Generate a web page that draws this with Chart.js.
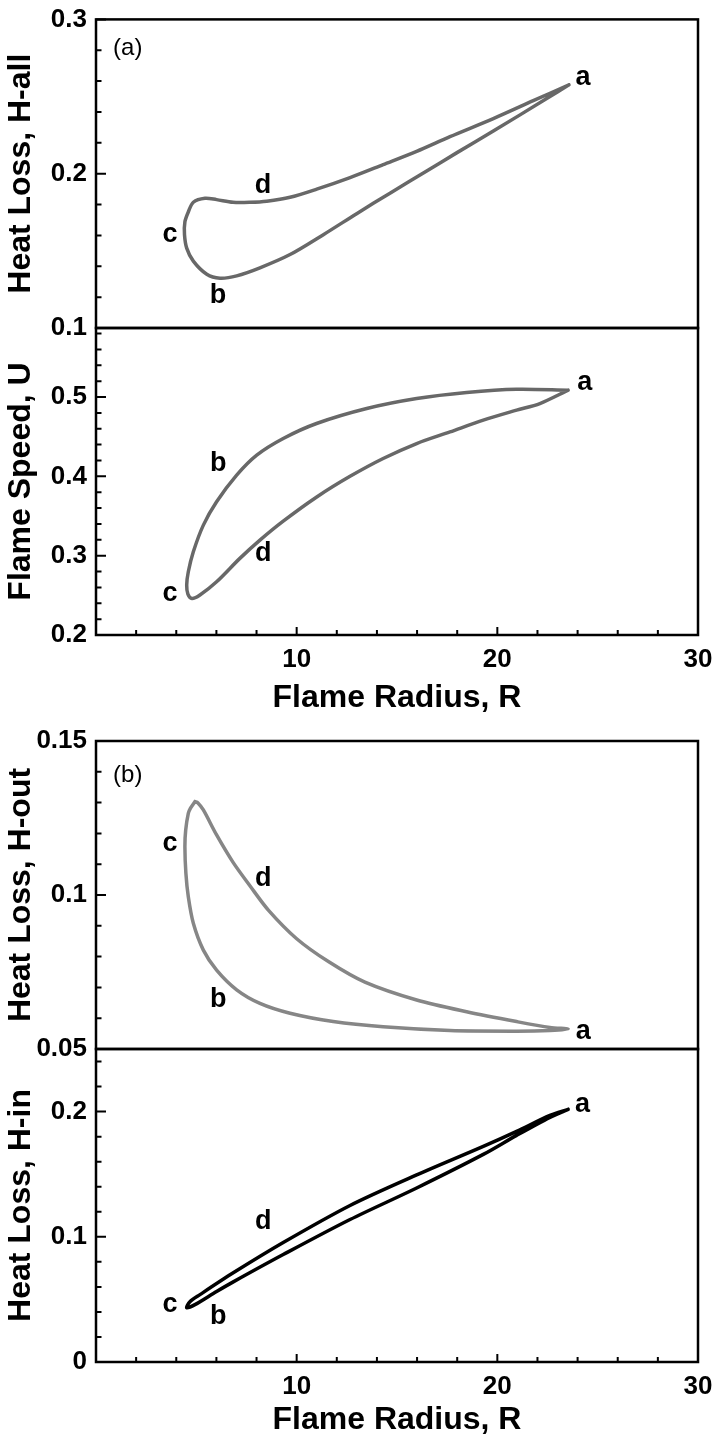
<!DOCTYPE html>
<html>
<head>
<meta charset="utf-8">
<title>Flame radius loops</title>
<script src="https://cdn.jsdelivr.net/npm/chart.js@4.4.1/dist/chart.umd.min.js"></script>
<style>
  body { margin: 0; background: #fff; overflow: hidden; }
  #page { position: relative; width: 717px; height: 1441px; overflow: hidden; }
  #page canvas { position: absolute; left: 0; }
</style>
</head>
<body>
<div id="page">
  <canvas id="chartA1" width="740" height="355" style="top:0px"></canvas>
  <canvas id="chartA2" width="740" height="420" style="top:300px"></canvas>
  <canvas id="chartB1" width="740" height="355" style="top:720px"></canvas>
  <canvas id="chartB2" width="740" height="421" style="top:1020px"></canvas>
</div>
<script>
// (a) top: heat loss H-all vs flame radius, loop a -> b -> c -> d -> a
const rAll = [23.57, 22.46, 19.80, 17.97, 16.48, 14.65, 12.99, 11.33, 9.67, 8.17, 7.01, 6.18, 5.52, 4.85, 4.52, 4.41, 4.43, 4.60, 4.85, 5.43, 6.01, 6.83, 7.67, 8.51, 9.67, 11.00, 12.66, 14.31, 15.98, 17.64, 19.80, 21.79, 23.57];
const hAll = [0.2576, 0.2487, 0.2276, 0.2135, 0.2017, 0.1874, 0.1741, 0.1605, 0.1476, 0.1390, 0.1338, 0.1323, 0.1348, 0.1433, 0.1518, 0.1605, 0.1688, 0.1752, 0.1815, 0.1841, 0.1832, 0.1815, 0.1815, 0.1822, 0.1847, 0.1900, 0.1975, 0.2059, 0.2145, 0.2240, 0.2357, 0.2473, 0.2576];

// (a) bottom: flame speed U
const rSpeed = [23.53, 20.96, 18.47, 15.98, 13.49, 10.99, 9.33, 8.01, 7.01, 6.01, 5.35, 4.85, 4.60, 4.52, 4.58, 4.78, 5.18, 6.01, 7.17, 8.17, 9.33, 11.00, 12.66, 14.31, 15.98, 17.64, 19.30, 20.96, 22.12, 23.53];
const uSpeed = [0.5086, 0.5098, 0.5057, 0.4981, 0.4855, 0.4666, 0.4477, 0.4267, 0.4015, 0.3679, 0.3385, 0.3049, 0.2797, 0.2630, 0.2516, 0.2460, 0.2504, 0.2671, 0.2966, 0.3196, 0.3435, 0.3740, 0.4000, 0.4225, 0.4414, 0.4560, 0.4708, 0.4834, 0.4918, 0.5086];

// (b) top: heat loss H-out
const rOut = [4.93, 4.71, 4.60, 4.47, 4.43, 4.48, 4.60, 4.85, 5.35, 6.01, 7.01, 8.17, 9.67, 11.82, 14.31, 17.64, 20.96, 22.62, 23.53, 22.62, 20.96, 18.47, 15.98, 13.40, 11.60, 10.00, 8.60, 7.67, 6.84, 6.01, 5.35, 5.08, 4.93];
const hOut = [0.1303, 0.1282, 0.1265, 0.1211, 0.1157, 0.1070, 0.0994, 0.0908, 0.0821, 0.0756, 0.0692, 0.0648, 0.0616, 0.0589, 0.0572, 0.0560, 0.0558, 0.0560, 0.0565, 0.0570, 0.0589, 0.0621, 0.0659, 0.0717, 0.0783, 0.0858, 0.0950, 0.1030, 0.1105, 0.1195, 0.1276, 0.1299, 0.1303];

// (b) bottom: heat loss H-in
const rIn = [23.53, 22.62, 20.96, 19.30, 15.98, 12.66, 9.33, 6.82, 5.18, 4.68, 4.52, 4.93, 6.01, 6.82, 9.33, 12.66, 15.98, 19.30, 20.96, 22.62, 23.53];
const hIn = [0.2018, 0.1970, 0.1842, 0.1722, 0.1494, 0.1250, 0.0954, 0.0710, 0.0538, 0.0482, 0.0434, 0.0458, 0.0563, 0.0638, 0.0858, 0.1138, 0.1390, 0.1658, 0.1810, 0.1954, 0.2018];

// point letters (data coordinates)
const marks = ['a', 'b', 'c', 'd'];
const markRA1 = [24.27, 6.08, 3.69, 8.32], markVA1 = [0.2624, 0.1210, 0.1605, 0.1924];
const markRA2 = [24.36, 6.09, 3.69, 8.34], markVA2 = [0.5178, 0.4163, 0.2525, 0.3029];
const markRB1 = [24.28, 6.09, 3.69, 8.34], markVB1 = [0.0556, 0.0659, 0.1168, 0.1054];
const markRB2 = [24.25, 6.09, 3.69, 8.34], markVB2 = [0.2058, 0.0365, 0.0458, 0.1125];

const xTickLabels = [10, 20, 30];

Chart.defaults.font.family = '"Liberation Sans", Arial, Helvetica, sans-serif';
Chart.defaults.color = '#000';

// box frame, inward ticks and point letters
const framePlugin = {
    id: 'frame',
    afterDatasetsDraw(chart, args, opts) {
        const ctx = chart.ctx, a = chart.chartArea;
        const x = chart.scales.x, y = chart.scales.y;
        ctx.save();
        ctx.strokeStyle = '#000';
        ctx.lineWidth = 2;
        ctx.beginPath();
        y.ticks.forEach(t => {
            const p = y.getPixelForValue(t.value);
            const len = t.label ? 10 : 5.5;
            ctx.moveTo(a.left, p);
            ctx.lineTo(a.left + len, p);
        });
        if (opts.xTicks) {
            x.ticks.forEach(t => {
                const p = x.getPixelForValue(t.value);
                const len = t.label ? 8 : 5;
                ctx.moveTo(p, a.bottom);
                ctx.lineTo(p, a.bottom - len);
            });
        }
        ctx.stroke();
        ctx.lineWidth = 2.5;
        ctx.strokeRect(a.left, a.top, a.right - a.left, a.bottom - a.top);

        ctx.fillStyle = '#000';
        ctx.textAlign = 'center';
        ctx.textBaseline = 'middle';
        ctx.font = 'bold 27px "Liberation Sans", Arial, sans-serif';
        marks.forEach((m, i) => {
            ctx.fillText(m, x.getPixelForValue(opts.markR[i]), y.getPixelForValue(opts.markV[i]));
        });
        if (opts.tag) {
            ctx.textAlign = 'left';
            ctx.font = '24px "Liberation Sans", Arial, sans-serif';
            ctx.fillText(opts.tag, x.getPixelForValue(0.85), y.getPixelForValue(opts.tagV));
        }
        ctx.restore();
    }
};

function fmt(v) {
    return String(Math.round(v * 100) / 100);
}

function yAxis(min, max, step, major, title) {
    return {
        type: 'linear', position: 'left', min: min, max: max,
        afterFit: s => { s.width = 96; },
        grid: { display: false, drawTicks: false },
        border: { display: false },
        ticks: {
            stepSize: step, includeBounds: false, autoSkip: false, maxTicksLimit: 200, padding: 9,
            font: { size: 26, weight: 'bold', lineHeight: 0.8 },
            callback: v => Math.abs(v / major - Math.round(v / major)) < 1e-6 ? fmt(v) : ''
        },
        title: {
            display: true, text: title,
            font: { size: 32, weight: 'bold', lineHeight: 1 },
            padding: { top: 5.5, bottom: 0 }
        }
    };
}

function xAxis(show, height, titlePad) {
    return {
        type: 'linear', position: 'bottom', min: 0, max: 30, display: show,
        afterFit: s => { s.height = height; },
        grid: { display: false, drawTicks: false },
        border: { display: false },
        ticks: {
            stepSize: 2, autoSkip: false, maxRotation: 0, padding: 12,
            font: { size: 26, weight: 'bold', lineHeight: 1 },
            callback: v => xTickLabels.includes(Math.round(v)) ? String(Math.round(v)) : ''
        },
        title: {
            display: true, text: 'Flame Radius, R',
            font: { size: 32, weight: 'bold', lineHeight: 1 },
            padding: { top: 0, bottom: titlePad }
        }
    };
}

function makeChart(id, rs, vs, color, yCfg, xCfg, pad, frameOpts) {
    const pts = rs.map((r, i) => ({ x: r, y: vs[i] }));
    return new Chart(document.getElementById(id), {
        type: 'scatter',
        data: {
            datasets: [{
                data: pts, showLine: true, borderColor: color, borderWidth: 3.5,
                pointRadius: 0, tension: 0.3, borderJoinStyle: 'round', borderCapStyle: 'round'
            }]
        },
        options: {
            responsive: false, animation: false, devicePixelRatio: 1, events: [],
            layout: { padding: pad },
            scales: { x: xCfg, y: yCfg },
            plugins: { legend: { display: false }, tooltip: { enabled: false }, frame: frameOpts }
        },
        plugins: [framePlugin]
    });
}

makeChart('chartA1', rAll, hAll, '#686868',
    yAxis(0.1, 0.3, 0.02, 0.1, 'Heat Loss, H-all'), xAxis(false, 0, 0),
    { left: 0, right: 42, top: 14, bottom: 27 },
    { xTicks: false, markR: markRA1, markV: markVA1, tag: '(a)', tagV: 0.281 });

makeChart('chartA2', rSpeed, uSpeed, '#686868',
    yAxis(0.2, 0.587, 0.02, 0.1, 'Flame Speed, U'), xAxis(true, 85, 6),
    { left: 0, right: 42, top: 28, bottom: 0 },
    { xTicks: true, markR: markRA2, markV: markVA2 });

makeChart('chartB1', rOut, hOut, '#868686',
    yAxis(0.05, 0.15, 0.01, 0.05, 'Heat Loss, H-out'), xAxis(false, 0, 0),
    { left: 0, right: 42, top: 21, bottom: 26 },
    { xTicks: false, markR: markRB1, markV: markVB1, tag: '(b)', tagV: 0.139 });

makeChart('chartB2', rIn, hIn, '#000000',
    yAxis(0, 0.25, 0.02, 0.1, 'Heat Loss, H-in'), xAxis(true, 79, 5),
    { left: 0, right: 42, top: 29, bottom: 0 },
    { xTicks: true, markR: markRB2, markV: markVB2 });
</script>
</body>
</html>
